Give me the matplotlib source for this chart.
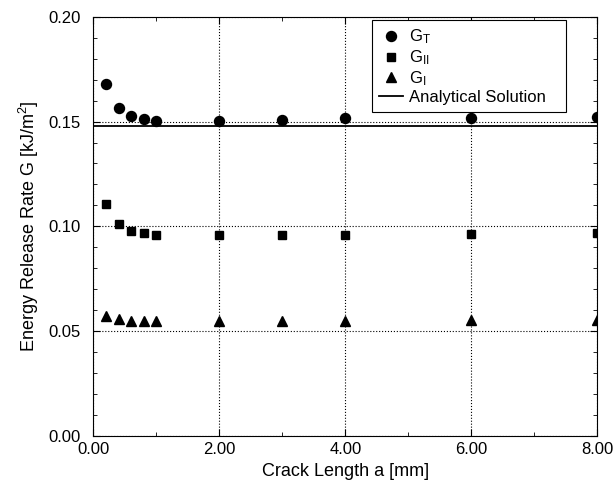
import matplotlib
matplotlib.use('Agg')
import matplotlib.pyplot as plt
from matplotlib.ticker import MultipleLocator, FormatStrFormatter

plt.rcParams['font.family'] = ['Liberation Sans', 'DejaVu Sans']
plt.rcParams['mathtext.fontset'] = 'custom'
plt.rcParams['mathtext.rm'] = 'Liberation Sans'
plt.rcParams['mathtext.it'] = 'Liberation Sans'

# data
crack_len = [0.2, 0.4, 0.6, 0.8, 1.0, 2.0, 3.0, 4.0, 6.0, 8.0]
g_total = [0.168, 0.1566, 0.1527, 0.1512, 0.1505, 0.1505, 0.151, 0.1515, 0.1515, 0.152]
g_mode2 = [0.1106, 0.101, 0.0977, 0.0966, 0.0959, 0.0958, 0.0958, 0.096, 0.0965, 0.097]
g_mode1 = [0.0573, 0.0556, 0.0549, 0.0548, 0.0548, 0.0548, 0.055, 0.055, 0.0553, 0.0553]
g_analytical = 0.1478

fig = plt.figure(figsize=(6.15, 4.87), dpi=100)
ax = fig.add_axes([0.152, 0.1053, 0.8195, 0.860])

ax.plot(crack_len, g_total, 'o', color='black', markersize=7.2, label=r'G$_\mathregular{T}$')
ax.plot(crack_len, g_mode2, 's', color='black', markersize=6, label=r'G$_\mathregular{II}$')
ax.plot(crack_len, g_mode1, '^', color='black', markersize=7, label=r'G$_\mathregular{I}$')
ax.axhline(g_analytical, color='black', linewidth=1.3, label='Analytical Solution')

ax.set_xlim(0, 8)
ax.set_ylim(0, 0.2)
ax.xaxis.set_major_locator(MultipleLocator(2))
ax.xaxis.set_minor_locator(MultipleLocator(1))
ax.yaxis.set_major_locator(MultipleLocator(0.05))
ax.yaxis.set_minor_locator(MultipleLocator(0.01))
ax.xaxis.set_major_formatter(FormatStrFormatter('%.2f'))
ax.yaxis.set_major_formatter(FormatStrFormatter('%.2f'))
ax.tick_params(which='both', direction='in', top=True, right=True, labelsize=12)
ax.tick_params(which='major', length=5)
ax.tick_params(which='minor', length=3)
ax.tick_params(axis='x', pad=4.5)
ax.tick_params(axis='y', pad=9.5)
ax.grid(True, which='major', linestyle=':', color='black', linewidth=0.8)

ax.set_xlabel('Crack Length a [mm]', fontsize=13, labelpad=4)
ax.set_ylabel(r'Energy Release Rate G [kJ/m$^\mathregular{2}$]', fontsize=13, labelpad=5)

# legend box spans a fixed region in the upper right
leg = ax.legend(loc='upper left', bbox_to_anchor=(0.5526, 0.0, 0.385, 0.992),
                mode='expand', borderaxespad=0,
                fontsize=12, fancybox=False, framealpha=1, edgecolor='black',
                handlelength=1.4, handletextpad=0.4, labelspacing=0.12, borderpad=0.45)
leg.get_frame().set_linewidth(0.8)

fig.savefig('out.png', dpi=100)
